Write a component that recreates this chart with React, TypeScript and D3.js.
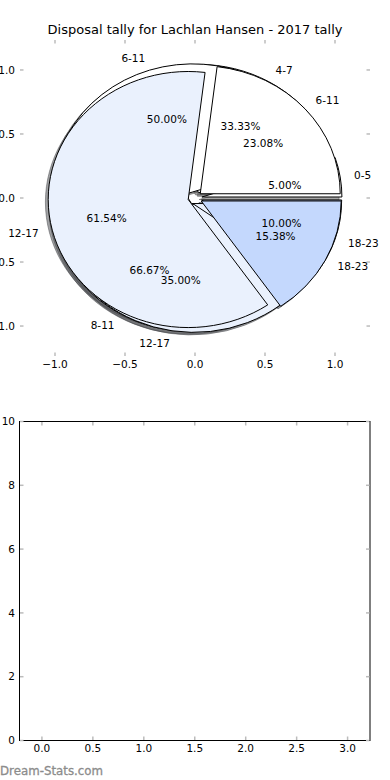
import React from "react";
import * as d3 from "d3";

// three tallies drawn on the same pie axes (last one ends on top)
const pieALabels = ["4-7", "8-11"];
const pieAValues = [1, 2];
const pieBLabels = ["0-5", "6-11", "12-17", "18-23"];
const pieBValues = [1, 10, 7, 2];
const pieCLabels = ["6-11", "12-17", "18-23"];
const pieCValues = [3, 8, 2];

const pieXTicks = [-1, -0.5, 0, 0.5, 1];
const pieYTicks = [-1, -0.5, 0, 0.5, 1];
const barXTicks = [0, 0.5, 1, 1.5, 2, 2.5, 3];
const barYTicks = [0, 2, 4, 6, 8, 10];

const title = "Disposal tally for Lachlan Hansen - 2017 tally";
const watermark = "Dream-Stats.com";

const palette: Record<string, string> = {
  "0-5": "#ffffff",
  "4-7": "#ffffff",
  "6-11": "#ffffff",
  "8-11": "#eaf1fd",
  "12-17": "#eaf1fd",
  "18-23": "#c4d8fd",
};

const FONT = "DejaVu Sans, Verdana, sans-serif";
const TICK = "#bcbcbc";
const EXPLODE = 0.05;
const PCT_DIST = 0.6;
const LABEL_DIST = 1.1;

const W = 390;
const H = 780;
const pie = { left: 20, right: 370, top: 40, bottom: 356 };
const bar = { left: 19.5, right: 370, top: 421.5, bottom: 740.5 };

const px = d3.scaleLinear().domain([-1.25, 1.25]).range([pie.left, pie.right]);
const py = d3.scaleLinear().domain([-1.234, 1.234]).range([pie.bottom, pie.top]);
const bx = d3.scaleLinear().domain([-0.22, 3.22]).range([bar.left, bar.right]);
const by = d3.scaleLinear().domain([0, 10]).range([bar.bottom, bar.top]);

const shade = (c: string) => {
  const k = d3.rgb(c);
  return d3.rgb(k.r * 0.3, k.g * 0.3, k.b * 0.3).formatHex();
};

function wedgePath(cx: number, cy: number, t1: number, t2: number) {
  const rx = px(1) - px(0);
  const ry = py(0) - py(1);
  const large = t2 - t1 > Math.PI ? 1 : 0;
  return (
    `M${px(cx)},${py(cy)}` +
    `L${px(cx + Math.cos(t1))},${py(cy + Math.sin(t1))}` +
    `A${rx},${ry} 0 ${large} 0 ${px(cx + Math.cos(t2))},${py(cy + Math.sin(t2))}Z`
  );
}

type Slice = { label: string; pct: number; t1: number; t2: number; cx: number; cy: number; tm: number };

function layout(labels: string[], values: number[]): Slice[] {
  const total = d3.sum(values);
  const arcs = d3.pie<number>().sort(null).value((d) => d)(values);
  return arcs.map((a, i) => {
    const tm = (a.startAngle + a.endAngle) / 2;
    return {
      label: labels[i],
      pct: (values[i] / total) * 100,
      t1: a.startAngle,
      t2: a.endAngle,
      tm,
      cx: EXPLODE * Math.cos(tm),
      cy: EXPLODE * Math.sin(tm),
    };
  });
}

export default function App() {
  const pies = [
    layout(pieALabels, pieAValues),
    layout(pieBLabels, pieBValues),
    layout(pieCLabels, pieCValues),
  ];
  const all = pies.flat();

  return (
    <svg
      width={W}
      height={H}
      style={{ position: "absolute", left: 0, top: 0, background: "#fff" }}
      fontFamily={FONT}
    >
      <rect width={W} height={H} fill="#fff" />
      <text x={195} y={34} textAnchor="middle" fontSize={13} fill="#000">
        {title}
      </text>

      {/* pie axes ticks (no frame) */}
      {pieXTicks.map((t) => (
        <g key={"px" + t}>
          <line x1={px(t)} x2={px(t)} y1={pie.top} y2={pie.top + 3.5} stroke={TICK} strokeWidth={1.5} />
          <line x1={px(t)} x2={px(t)} y1={pie.bottom} y2={pie.bottom - 3.5} stroke={TICK} strokeWidth={1.5} />
          <text x={px(t)} y={368} textAnchor="middle" fontSize={10.5}>
            {d3.format(".1f")(t).replace("-", "\u2212")}
          </text>
        </g>
      ))}
      {pieYTicks.map((t) => (
        <g key={"py" + t}>
          <line x1={pie.left} x2={pie.left + 3.5} y1={py(t)} y2={py(t)} stroke={TICK} strokeWidth={1.5} />
          <line x1={pie.right} x2={pie.right - 3.5} y1={py(t)} y2={py(t)} stroke={TICK} strokeWidth={1.5} />
          <text x={15} y={py(t)} dy="0.36em" textAnchor="end" fontSize={10.5}>
            {d3.format(".1f")(t).replace("-", "\u2212")}
          </text>
        </g>
      ))}

      {/* shadows under every wedge */}
      {all.map((s, i) => (
        <path
          key={"sh" + i}
          d={wedgePath(s.cx - 0.02, s.cy - 0.02, s.t1, s.t2)}
          fill={shade(palette[s.label])}
          fillOpacity={0.5}
          stroke={shade(palette[s.label])}
          strokeOpacity={0.5}
          strokeWidth={1}
        />
      ))}
      {all.map((s, i) => (
        <path
          key={"w" + i}
          d={wedgePath(s.cx, s.cy, s.t1, s.t2)}
          fill={palette[s.label]}
          stroke="#000"
          strokeWidth={1}
          strokeLinejoin="round"
        />
      ))}
      {all.map((s, i) => {
        const lx = s.cx + LABEL_DIST * Math.cos(s.tm);
        const ly = s.cy + LABEL_DIST * Math.sin(s.tm);
        const tx = s.cx + PCT_DIST * Math.cos(s.tm);
        const ty = s.cy + PCT_DIST * Math.sin(s.tm);
        return (
          <g key={"t" + i} fontSize={10.5}>
            <text x={px(lx)} y={py(ly)} dy="0.36em" textAnchor={lx > 0 ? "start" : "end"}>
              {s.label}
            </text>
            <text x={px(tx)} y={py(ty)} dy="0.36em" textAnchor="middle">
              {s.pct.toFixed(2) + "%"}
            </text>
          </g>
        );
      })}

      {/* empty lower axes */}
      <rect
        x={bar.left}
        y={bar.top}
        width={bar.right - bar.left}
        height={bar.bottom - bar.top}
        fill="none"
        stroke="#000"
        strokeWidth={1}
      />
      {barXTicks.map((t) => (
        <g key={"bx" + t}>
          <line x1={bx(t)} x2={bx(t)} y1={bar.top + 0.5} y2={bar.top + 4} stroke={TICK} strokeWidth={1.5} />
          <line x1={bx(t)} x2={bx(t)} y1={bar.bottom - 0.5} y2={bar.bottom - 4} stroke={TICK} strokeWidth={1.5} />
          <text x={bx(t)} y={752} textAnchor="middle" fontSize={10.5}>
            {d3.format(".1f")(t)}
          </text>
        </g>
      ))}
      {barYTicks.map((t) => (
        <g key={"by" + t}>
          <line x1={bar.left + 0.5} x2={bar.left + 4} y1={by(t)} y2={by(t)} stroke={TICK} strokeWidth={1.5} />
          <line x1={bar.right - 0.5} x2={bar.right - 4} y1={by(t)} y2={by(t)} stroke={TICK} strokeWidth={1.5} />
          <text x={15} y={by(t)} dy="0.36em" textAnchor="end" fontSize={10.5}>
            {String(t)}
          </text>
        </g>
      ))}

      <text x={0} y={775} fontSize={11.8} fill="#8c8c8c" stroke="#8c8c8c" strokeWidth={0.3}>
        {watermark}
      </text>
    </svg>
  );
}
